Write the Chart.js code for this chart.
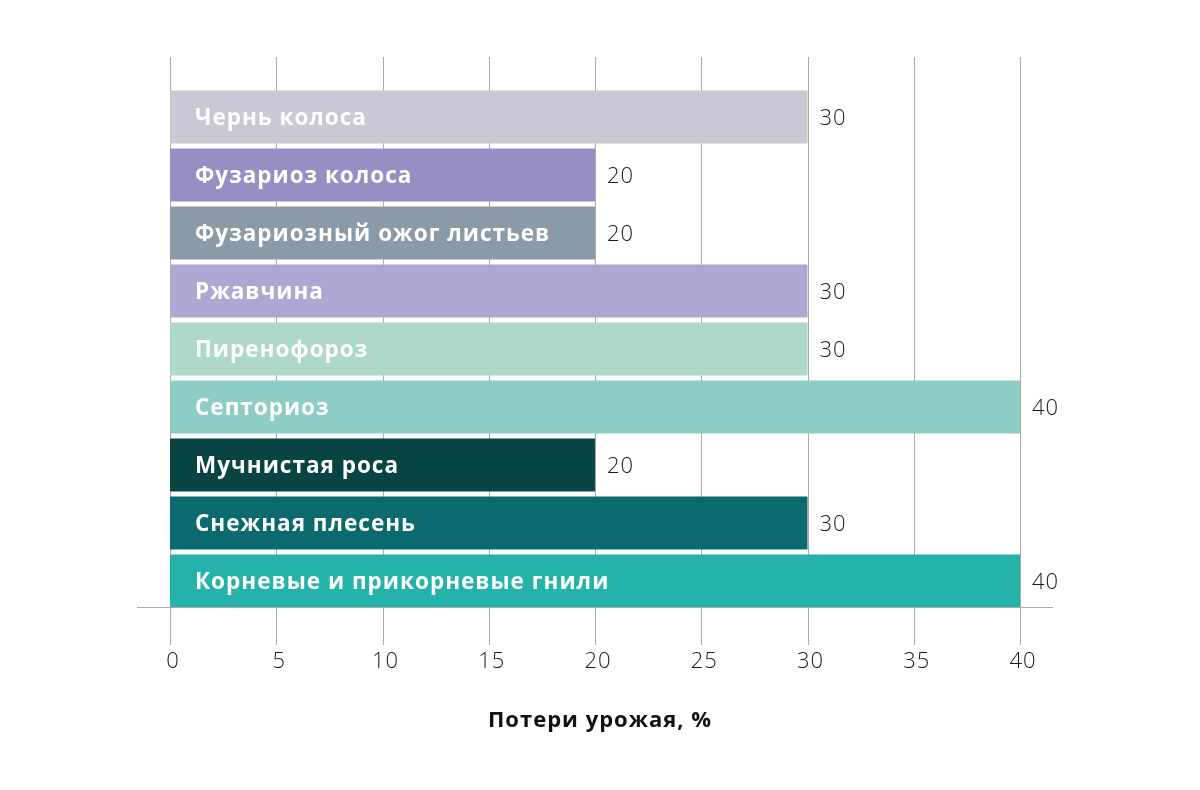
<!DOCTYPE html>
<html>
<head>
<meta charset="utf-8">
<script src="https://cdn.jsdelivr.net/npm/chart.js@4/dist/chart.umd.min.js"></script>
<style>
  html, body { margin: 0; padding: 0; background: #fff; }
</style>
</head>
<body>
<canvas id="c1" width="1200" height="790"></canvas>
<script>
var categories = [
  "Чернь колоса",
  "Фузариоз колоса",
  "Фузариозный ожог листьев",
  "Ржавчина",
  "Пиренофороз",
  "Септориоз",
  "Мучнистая роса",
  "Снежная плесень",
  "Корневые и прикорневые гнили"
];
var losses = [30, 20, 20, 30, 30, 40, 20, 30, 40];
var barColors = ["#c9c9d6", "#978fc4", "#8a9ba7", "#afa7d2", "#aed8cb", "#8ecdc3", "#074442", "#0b6a6e", "#25b2ab"];
var xTicks = [0, 5, 10, 15, 20, 25, 30, 35, 40];
var xTitle = "Потери урожая, %";

// grid, axis line, ticks and title
var axisPlugin = {
  id: "axisPlugin",
  beforeDatasetsDraw: function(chart) {
    var ctx = chart.ctx;
    var x = chart.scales.x;
    var area = chart.chartArea;
    ctx.save();
    ctx.strokeStyle = "#ababab";
    ctx.lineWidth = 1;
    xTicks.forEach(function(t) {
      var px = Math.round(x.getPixelForValue(t)) + 0.5;
      ctx.beginPath();
      ctx.moveTo(px, area.top - 31);
      ctx.lineTo(px, area.bottom + 35);
      ctx.stroke();
    });
    ctx.restore();
  },
  afterDatasetsDraw: function(chart) {
    var ctx = chart.ctx;
    var x = chart.scales.x;
    var area = chart.chartArea;
    ctx.save();
    ctx.strokeStyle = "#ababab";
    ctx.lineWidth = 1;
    ctx.beginPath();
    ctx.moveTo(area.left - 33, area.bottom - 2.5);
    ctx.lineTo(area.right + 33, area.bottom - 2.5);
    ctx.stroke();

    ctx.fillStyle = "#1a1a1a";
    ctx.letterSpacing = "1px";
    ctx.font = "300 22px 'Open Sans'";
    ctx.textAlign = "center";
    ctx.textBaseline = "middle";
    xTicks.forEach(function(t) {
      ctx.fillText(String(t), x.getPixelForValue(t) + 3, area.bottom + 52);
    });
    ctx.font = "bold 22px 'Open Sans'";
    ctx.fillStyle = "#111";
    ctx.fillText(xTitle, 600, area.bottom + 111);

    // labels inside and after bars
    var meta = chart.getDatasetMeta(0);
    meta.data.forEach(function(bar, i) {
      ctx.textAlign = "left";
      ctx.fillStyle = "#ffffff";
      ctx.letterSpacing = "1px";
      ctx.font = "bold 22.5px 'Open Sans'";
      ctx.fillText(categories[i], area.left + 25, bar.y + 2);
      ctx.fillStyle = "#1a1a1a";
      ctx.font = "300 22px 'Open Sans'";
      ctx.fillText(String(losses[i]), bar.x + 12, bar.y + 2);
    });
    ctx.restore();
  }
};

var ctx = document.getElementById("c1");
var myBarChart = new Chart(ctx, {
  type: "bar",
  data: {
    labels: categories,
    datasets: [
      {
        data: losses,
        backgroundColor: barColors,
        borderWidth: 0,
        barPercentage: 0.915,
        categoryPercentage: 1.0
      }
    ]
  },
  options: {
    indexAxis: "y",
    responsive: false,
    animation: false,
    devicePixelRatio: 1,
    layout: {
      padding: { left: 170, right: 180, top: 88, bottom: 180 }
    },
    scales: {
      x: { display: false, min: 0, max: 40 },
      y: { display: false }
    },
    plugins: {
      legend: { display: false },
      tooltip: { enabled: false }
    }
  },
  plugins: [axisPlugin]
});
</script>
</body>
</html>
